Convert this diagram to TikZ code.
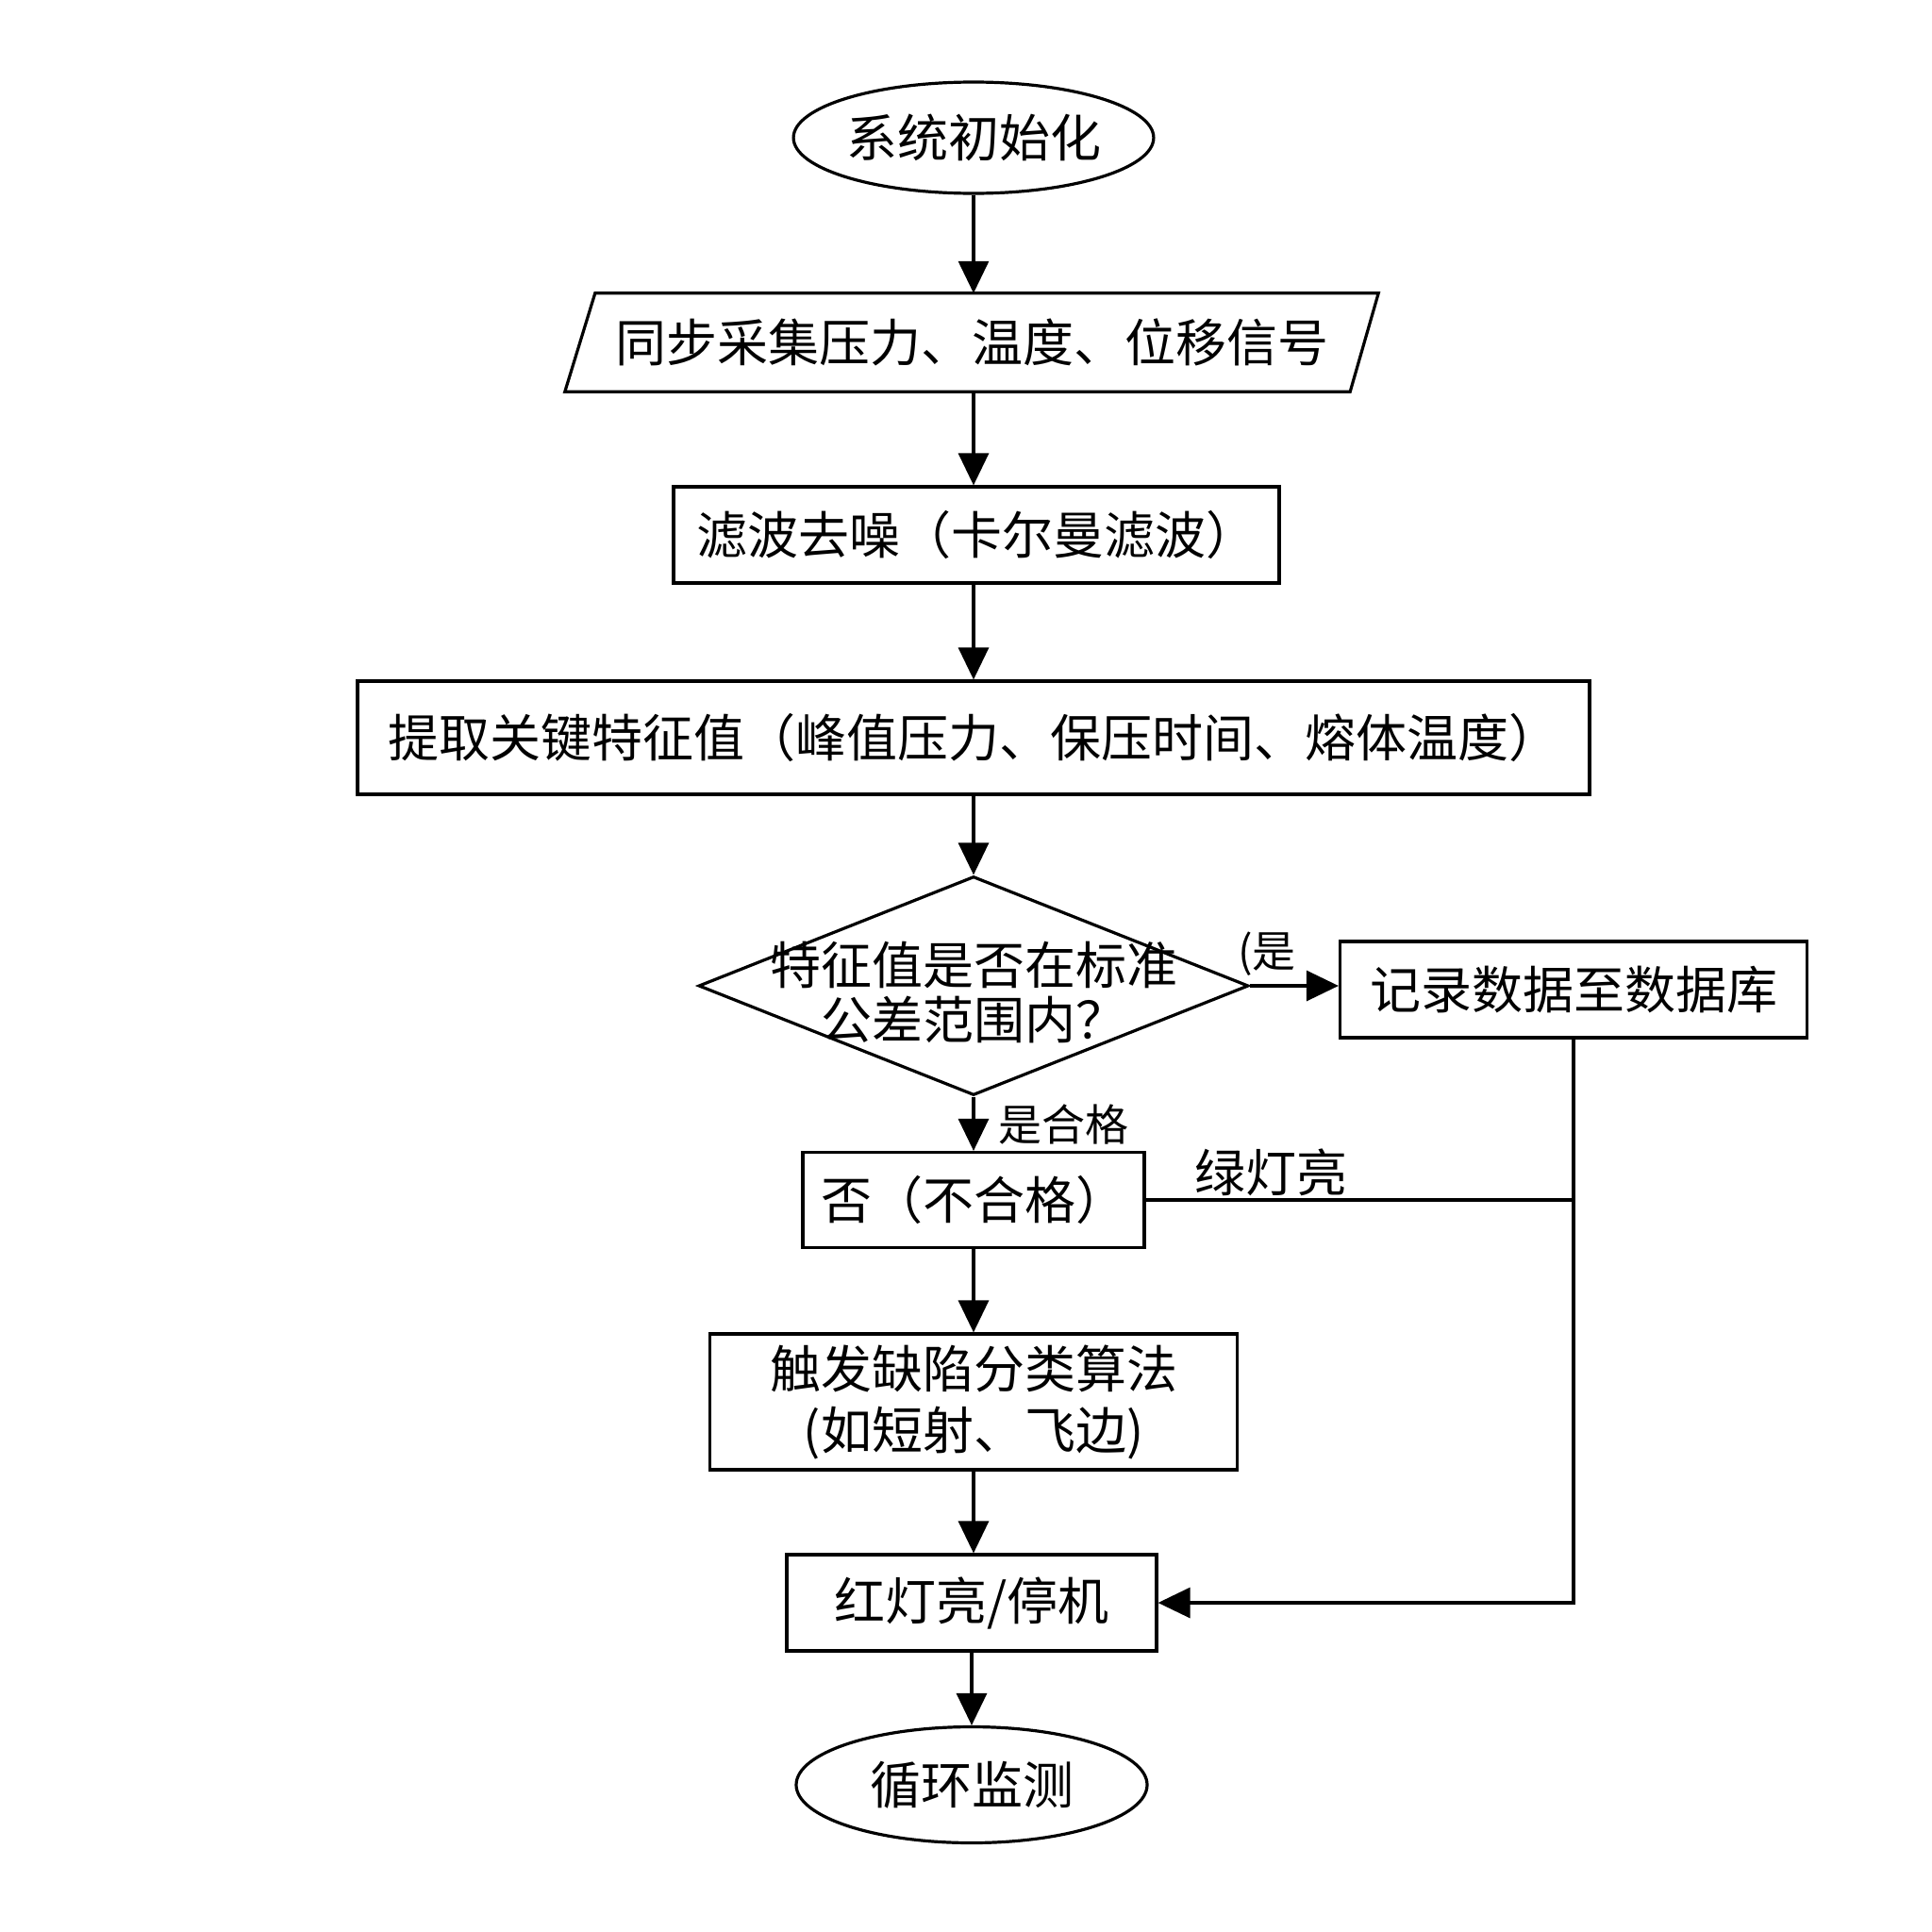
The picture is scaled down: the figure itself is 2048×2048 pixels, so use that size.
\documentclass[tikz,border=0pt]{standalone}
\usepackage{fontspec}
\setmainfont{Noto Sans CJK SC}
\usetikzlibrary{shapes.geometric,arrows.meta,calc}
\begin{document}
\begin{tikzpicture}[x=1pt,y=-1pt,
  every node/.style={font=\fontsize{54}{64}\selectfont},
  box/.style={draw,line width=3.2pt,inner sep=0pt,align=center},
  term/.style={draw,ellipse,line width=3.2pt,inner sep=0pt},
  arr/.style={line width=3.2pt,-{Triangle[length=34pt,width=32pt]}},
  ln/.style={line width=3.2pt},
  lbl/.style={font=\fontsize{46}{54}\selectfont,inner sep=0pt}]
\useasboundingbox (0,0) rectangle (2048,2048);
\fill[white] (0,0) rectangle (2048,2048);

\node[term,minimum width=381pt,minimum height=118pt] (start) at (1032,146) {系统初始化};
\node[inner sep=0pt,minimum width=862pt,minimum height=104pt] (acq) at (1030,363) {同步采集压力、温度、位移信号};
\draw[ln,line join=miter] ($(acq.north west)+(32,0)$) -- (acq.north east) -- ($(acq.south east)-(30,0)$) -- (acq.south west) -- cycle;
\node[box,minimum width=642pt,minimum height=102pt] (flt) at (1035,567) {滤波去噪（卡尔曼滤波）};
\node[box,minimum width=1306pt,minimum height=120pt] (ext) at (1032,782) {提取关键特征值（峰值压力、保压时间、熔体温度）};
\node[draw,diamond,line width=3.2pt,minimum width=583pt,minimum height=232pt,inner sep=0pt] (dec) at (1032,1045) {};
\node[align=center,inner sep=0pt,font=\fontsize{54}{58}\selectfont] (dect) at (1032,1052) {特征值是否在标准\\公差范围内？};
\node[box,minimum width=495pt,minimum height=102pt] (rec) at (1668,1049) {记录数据至数据库};
\node[box,minimum width=362pt,minimum height=101pt] (no) at (1032,1272) {否（不合格）};
\node[box,minimum width=559pt,minimum height=144pt,font=\fontsize{54}{65}\selectfont] (def) at (1032,1486) {触发缺陷分类算法\\(如短射、飞边)};
\node[box,minimum width=392pt,minimum height=102pt] (red) at (1030,1699) {红灯亮/停机};
\node[term,minimum width=372pt,minimum height=123pt] (end) at (1030,1892) {循环监测};

\draw[arr] (start.south) -- (start.south |- acq.north);
\draw[arr] (acq.south -| start.south) -- (start.south |- flt.north);
\draw[arr] (flt.south -| start.south) -- (start.south |- ext.north);
\draw[arr] (ext.south -| start.south) -- (dec.north);
\draw[arr] (dec.east) -- (dec.east -| rec.west);
\draw[arr] (dec.south) -- (no.north);
\draw[arr] (no.south) -- (no.south |- def.north);
\draw[arr] (def.south -| no.south) -- (no.south |- red.north);
\draw[arr] (red.south) -- (red.south |- end.north);
\draw[ln] (no.east) -- (no.east -| rec.south);
\draw[arr] (rec.south) |- (red.east);

\node[lbl,anchor=west] (lyes) at (1312,1011) {(是};
\node[lbl] (lpass) at (1127,1192) {是合格};
\node[inner sep=0pt] (lgreen) at (1347,1243) {绿灯亮};
\end{tikzpicture}
\end{document}
